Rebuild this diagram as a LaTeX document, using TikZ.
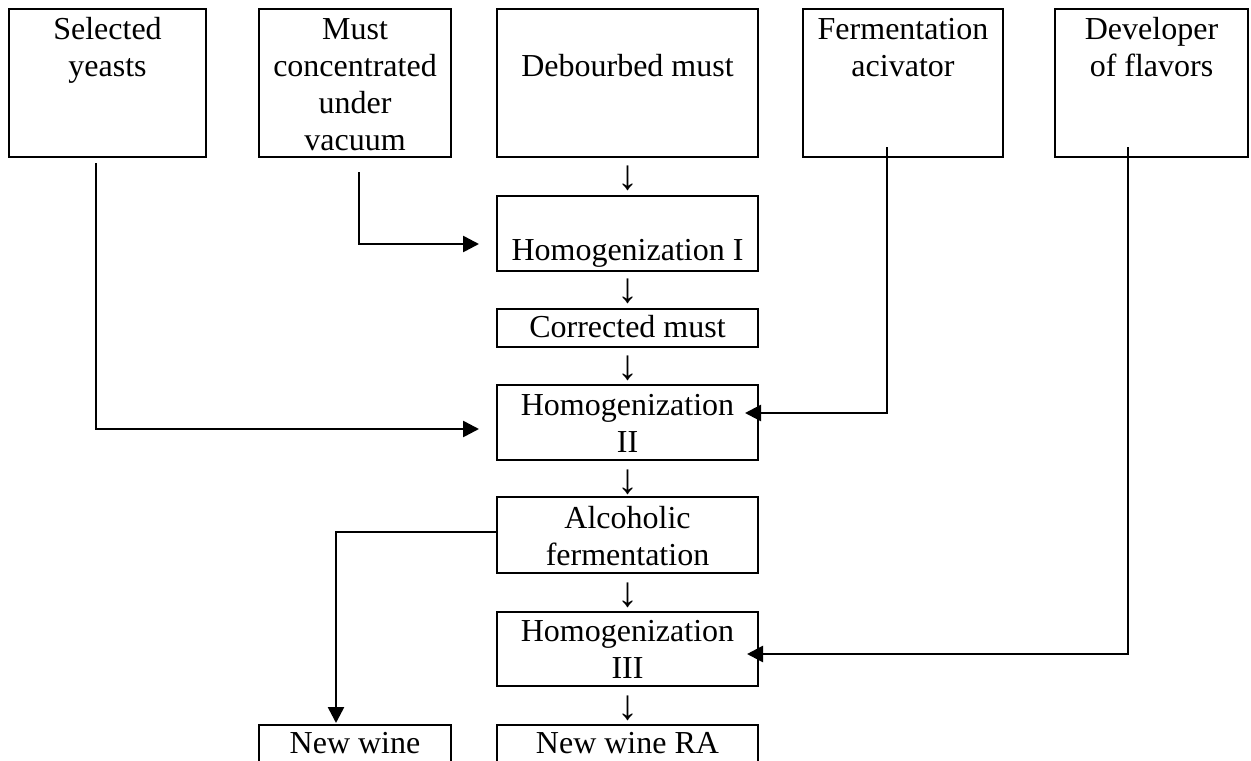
\documentclass[tikz,border=0pt]{standalone}
\usepackage{fontspec}
\setmainfont{Liberation Serif}
\usetikzlibrary{arrows.meta,fit}
% fixed first-line height so every label hangs from the same point
\newcommand\capstrut{\rule{0pt}{12pt}}
\begin{document}
\begin{tikzpicture}[x=0.5pt,y=-0.5pt,
  box/.style={draw, line width=1.3pt, inner sep=0pt},
  txt/.style={anchor=north, inner sep=0pt, align=center,
    font=\fontsize{16}{18.5}\selectfont},
  glyph/.style={inner sep=0pt, font=\fontsize{21}{21}\selectfont},
  link/.style={line width=1.3pt},
  feed/.style={link, -{Triangle[length=8pt,width=8pt]}}]
\useasboundingbox (0,0) rectangle (1251,760);
\clip (0,0) rectangle (1251,760);

% input boxes along the top
\node[box, fit={(9,9) (206,157)}]      (yeast) {};
\node[box, fit={(259,9) (451,157)}]    (mustc) {};
\node[box, fit={(497,9) (758,157)}]    (deb)   {};
\node[box, fit={(803,9) (1003,157)}]   (ferm)  {};
\node[box, fit={(1055,9) (1248,157)}]  (dev)   {};

% process chain
\node[box, fit={(497,196) (758,271)}]  (hom1)  {};
\node[box, fit={(497,309) (758,347)}]  (corr)  {};
\node[box, fit={(497,385) (758,460)}]  (hom2)  {};
\node[box, fit={(497,497) (758,573)}]  (alc)   {};
\node[box, fit={(497,612) (758,686)}]  (hom3)  {};
\node[box, fit={(497,725) (758,800)}]  (nwra)  {};
\node[box, fit={(259,725) (451,800)}]  (nw)    {};

% labels (first baseline 30px below each box top)
\node[txt] (yeast-t) at (107.5,15) {\capstrut Selected\\yeasts};
\node[txt] (mustc-t) at (355,15)   {\capstrut Must\\concentrated\\under\\vacuum};
\node[txt] (deb-t)   at (627.5,52) {\capstrut Debourbed must};
\node[txt] (ferm-t)  at (903,15)   {\capstrut Fermentation\\acivator};
\node[txt] (dev-t)   at (1151.5,15){\capstrut Developer\\of flavors};
\node[txt] (hom1-t)  at (627.5,236){\capstrut Homogenization I};
\node[txt] (corr-t)  at (627.5,313){\capstrut Corrected must};
\node[txt] (hom2-t)  at (627.5,391){\capstrut Homogenization\\II};
\node[txt] (alc-t)   at (627.5,504){\capstrut Alcoholic\\fermentation};
\node[txt] (hom3-t)  at (627.5,617){\capstrut Homogenization\\III};
\node[txt] (nwra-t)  at (627.5,729){\capstrut New wine RA};
\node[txt] (nw-t)    at (355,729)  {\capstrut New wine};

% arrow glyphs between the chain steps
\node[glyph] (g1) at (627.5,178)   {↓};
\node[glyph] (g2) at (627.5,291.5) {↓};
\node[glyph] (g3) at (627.5,368)   {↓};
\node[glyph] (g4) at (627.5,482)   {↓};
\node[glyph] (g5) at (627.5,595)   {↓};
\node[glyph] (g6) at (627.5,708.5) {↓};

% feed lines
\coordinate (yeast-o) at (96,163);
\coordinate (hom2-a)  at (479,429);
\coordinate (mustc-o) at (359,172);
\coordinate (hom1-a)  at (479,244);
\coordinate (ferm-o)  at (887,147);
\coordinate (hom2-b)  at (745,413);
\coordinate (dev-o)   at (1128,147);
\coordinate (hom3-a)  at (747,654);
\coordinate (alc-o)   at (497,532);
\coordinate (nw-a)    at (336,723);

\draw[feed] (yeast-o) |- (hom2-a);
\draw[feed] (mustc-o) |- (hom1-a);
\draw[feed] (ferm-o)  |- (hom2-b);
\draw[feed] (dev-o)   |- (hom3-a);
\draw[feed] (alc-o)   -| (nw-a);
\end{tikzpicture}
\end{document}
